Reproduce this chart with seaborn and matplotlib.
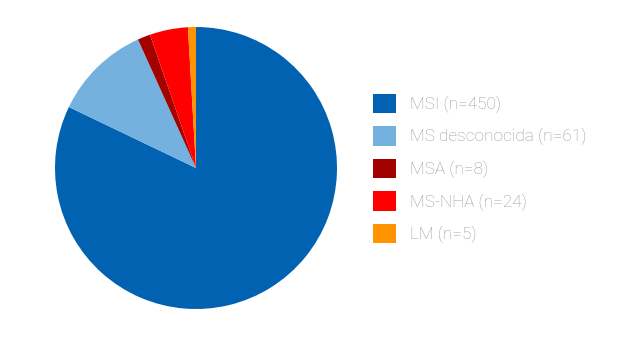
import matplotlib
matplotlib.use("Agg")
import matplotlib.pyplot as plt
import matplotlib.patches as mpatches
import seaborn as sns

categories = ["MSI (n=450)", "MS desconocida (n=61)", "MSA (n=8)", "MS-NHA (n=24)", "LM (n=5)"]
values = [450, 61, 8, 24, 5]
colors = ["#0062b1", "#74b1de", "#a30000", "#ff0000", "#ff9400"]

sns.set_style("white")
plt.rcParams['font.family'] = ['Roboto', 'DejaVu Sans']

W, H = 623, 338
fig = plt.figure(figsize=(W / 100, H / 100), dpi=100)
cx, cy, r = 196, 168, 141
ax = fig.add_axes([(cx - r) / W, (H - cy - r) / H, 2 * r / W, 2 * r / H])
ax.pie(values, colors=colors, startangle=90, counterclock=False,
       wedgeprops=dict(linewidth=0))
ax.set_aspect("equal")
ax.set_xlim(-1, 1)
ax.set_ylim(-1, 1)

handles = [mpatches.Patch(facecolor=c, edgecolor="none") for c in colors]
leg = fig.legend(handles, categories, loc="upper left",
                 bbox_to_anchor=(364 / W, 1 - 85 / H), frameon=False,
                 fontsize=12.4, handlelength=1.35, handleheight=1.35,
                 handletextpad=0.85, labelspacing=0.77, borderpad=0)
for t in leg.get_texts():
    t.set_color("#9a9a9a")
    t.set_fontweight("light")

fig.savefig("out.png", dpi=100)
